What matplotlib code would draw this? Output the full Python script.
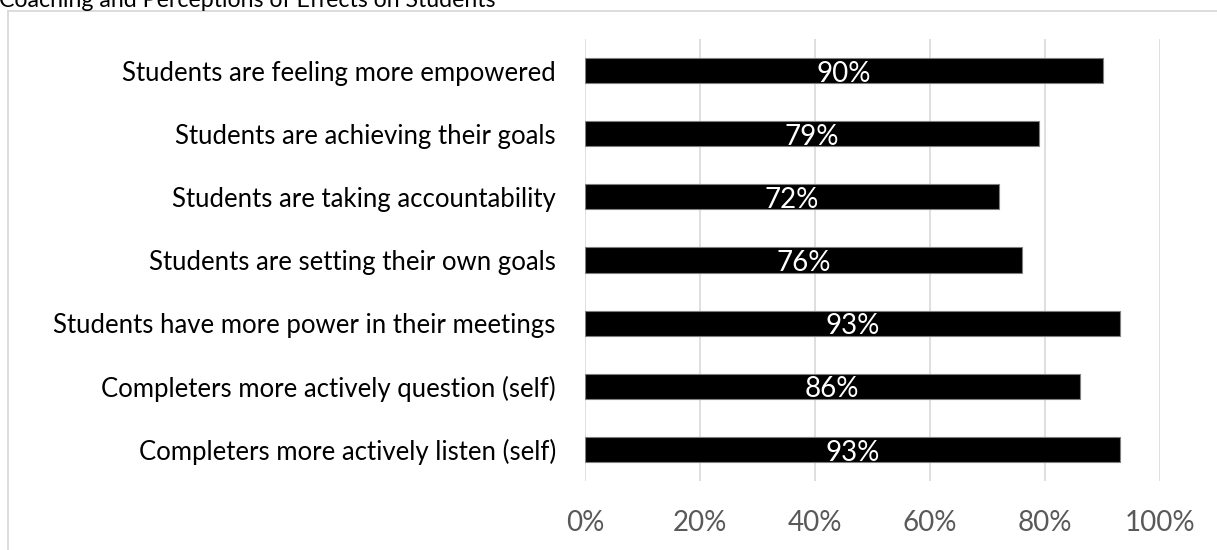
import matplotlib
matplotlib.use("Agg")
import matplotlib.pyplot as plt
from matplotlib.lines import Line2D

# Survey items, listed top to bottom
categories = [
    "Students are feeling more empowered",
    "Students are achieving their goals",
    "Students are taking accountability",
    "Students are setting their own goals",
    "Students have more power in their meetings",
    "Completers more actively question (self)",
    "Completers more actively listen (self)",
]
percent_agree = [90, 79, 72, 76, 93, 86, 93]
x_ticks = [0, 20, 40, 60, 80, 100]
x_tick_labels = ["0%", "20%", "40%", "60%", "80%", "100%"]
title = "Coaching and Perceptions of Effects on Students"

plt.rcParams["font.family"] = ["Lato", "DejaVu Sans"]

W, H, DPI = 1217, 550, 100
fig = plt.figure(figsize=(W / DPI, H / DPI), dpi=DPI)

# plot area in pixel terms
x0, x1 = 585, 1160
y_top, y_bot = 39, 481
ax = fig.add_axes([x0 / W, 1 - y_bot / H, (x1 - x0) / W, (y_bot - y_top) / H])

pos = list(range(len(categories)))
ax.barh(pos, percent_agree, height=0.40, color="black",
        edgecolor="#7f7f7f", linewidth=0.8, zorder=3)

for p, v in zip(pos, percent_agree):
    ax.text(v / 2, p + 0.05, f"{v}%", ha="center", va="center",
            color="white", fontsize=20, zorder=4)

ax.set_xlim(0, 100)
ax.set_ylim(len(categories) - 0.5, -0.5)
ax.set_xticks(x_ticks)
ax.set_xticklabels(x_tick_labels)
ax.set_yticks(pos)
ax.set_yticklabels(categories)

ax.tick_params(axis="x", length=0, pad=21, labelsize=20, labelcolor="#595959")
ax.tick_params(axis="y", length=0, pad=21, labelsize=18.5, labelcolor="black")

ax.grid(axis="x", color="#d9d9d9", linewidth=1.2, zorder=0)
ax.set_axisbelow(True)
for s in ax.spines.values():
    s.set_visible(False)

# outer chart frame (left and top edges)
frame_kw = dict(color="#d9d9d9", linewidth=1.3, transform=fig.transFigure)
fig.add_artist(Line2D([8 / W, 8 / W], [0, 1 - 11 / H], **frame_kw))
fig.add_artist(Line2D([8 / W, 1], [1 - 11 / H, 1 - 11 / H], **frame_kw))

# title sits mostly above the top edge of the image
fig.text(-1 / W, 1 - 7 / H, title, ha="left", va="baseline",
         fontsize=16.7, color="black")

fig.savefig("out.png", dpi=DPI, facecolor="white")
